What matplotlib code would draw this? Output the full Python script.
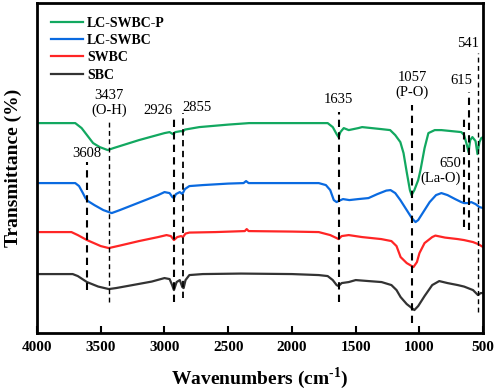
import matplotlib
matplotlib.use("Agg")
import matplotlib.pyplot as plt

plt.rcParams['font.family'] = ['Liberation Serif', 'DejaVu Serif']
plt.rcParams['mathtext.fontset'] = 'custom'
plt.rcParams['mathtext.rm'] = 'Liberation Serif'
plt.rcParams['mathtext.bf'] = 'Liberation Serif:bold'

# ---- data (wavenumber cm-1, arbitrary transmittance with vertical offsets) ----
green_x = [4000, 3700, 3650, 3560, 3508, 3445, 3400, 3300, 3200, 3100, 3000, 2960, 2935, 2915,
           2870, 2855, 2840, 2727, 2500, 2336, 2000, 1720, 1680, 1650, 1635, 1620, 1594, 1555,
           1480, 1450, 1300, 1230, 1190, 1150, 1125, 1100, 1075, 1062, 1040, 1010, 992, 960,
           930, 880, 828, 750, 672, 650, 628, 615, 602, 585, 560, 545, 530, 515, 500]
green_y = [210, 210, 205, 190, 186, 183, 185, 189, 193, 196.5, 200, 201, 199, 201,
           202, 201.5, 203.5, 206, 208.5, 210, 210, 210, 206, 199, 196, 201, 205, 203,
           205, 206, 204, 203, 198, 191, 180, 161, 143, 138, 143, 153, 163, 185,
           200, 203, 203, 202, 201, 198, 188, 181, 193, 196, 192, 179, 191, 195, 196]

blue_x = [4000, 3700, 3670, 3640, 3620, 3600, 3550, 3480, 3414, 3350, 3250, 3150, 3050, 3000,
          2960, 2938, 2926, 2910, 2880, 2860, 2840, 2805, 2700, 2500, 2380, 2360, 2340, 2000,
          1790, 1734, 1700, 1672, 1650, 1635, 1600, 1550, 1480, 1400, 1330, 1260, 1227, 1190,
          1150, 1100, 1060, 1031, 1010, 970, 920, 870, 828, 780, 720, 672, 650, 615, 594,
          560, 530, 500]
blue_y = [150, 150, 147, 140, 135, 132, 128, 123, 120, 123, 128, 133, 138, 141,
          140, 136, 135, 139, 141, 139, 144, 147, 148, 149.5, 150, 152, 150, 150,
          150, 148, 143, 133, 131, 132, 134, 133, 134, 135, 139, 142.5, 143, 140,
          133, 123, 115, 111, 113, 121, 131, 138, 140, 138, 134, 131, 130, 130, 131,
          129, 126, 125]

red_x = [4000, 3730, 3680, 3608, 3500, 3437, 3350, 3200, 3050, 2984, 2950, 2926, 2900, 2870,
         2855, 2835, 2805, 2600, 2370, 2355, 2340, 2000, 1790, 1700, 1650, 1635, 1610, 1555,
         1450, 1300, 1220, 1180, 1148, 1100, 1047, 1020, 1000, 960, 900, 875, 800, 700, 650,
         580, 540, 500]
red_y = [101, 101, 98, 93, 87, 85, 87.5, 92, 96, 98, 97, 93, 96, 97,
         96, 99.5, 100.5, 101, 102, 104, 102, 101.5, 101, 98, 95, 94, 97, 98,
         96, 94, 92, 87, 76, 70, 66, 71, 80, 90, 96, 97.5, 95.5, 94, 93,
         91, 89, 86]

black_x = [4000, 3720, 3680, 3608, 3520, 3437, 3380, 3250, 3100, 3000, 2960, 2940, 2926, 2905,
           2880, 2860, 2850, 2835, 2805, 2700, 2400, 2000, 1790, 1720, 1680, 1650, 1635, 1610,
           1555, 1500, 1400, 1297, 1220, 1180, 1148, 1100, 1060, 1040, 1010, 960, 900, 845,
           780, 700, 650, 580, 541, 520, 500]
black_y = [59, 59, 57, 51, 46.5, 44, 45, 48, 51.5, 55, 54, 48, 43, 51,
           53, 46, 45, 53, 58, 59, 59.5, 59, 58, 57, 53, 48, 47, 50,
           51, 53, 52, 51, 48, 43, 36, 29, 25, 23, 27, 37, 48, 52,
           50, 48, 46.5, 43, 38, 40, 40]

series_names = ['LC-SWBC-P', 'LC-SWBC', 'SWBC', 'SBC']

# peak markers: position, dashed-line bottom, dashed-line top
peak_pos = [3608, 3437, 2926, 2855, 1635, 1057, 650, 615, 541]
peak_low = [43, 31, 31, 35, 31, 10, 106, 103, 21]
peak_high = [171, 213, 216, 220, 221, 228, 218, 241, 280]
peak_lw = [1.5, 1.0, 1.5, 1.3, 1.5, 1.5, 1.5, 1.5, 1.0]

# peak labels: text, x, y, horizontal alignment
label_text = ['3608', '3437\n(O-H)', '2926', '2855', '1635', '1057\n(P-O)', '650\n(La-O)', '615', '541']
label_x = [3608, 3437, 3053, 2748, 1635, 1057, 675, 669, 615]
label_y = [180, 230, 223, 226, 234, 248, 162, 253, 290]
label_ha = ['center', 'center', 'center', 'center', 'center', 'center', 'right', 'center', 'center']

colors = ['#12a860', '#0a6ae0', '#ff2525', '#333333']

fig = plt.figure(figsize=(4.98, 3.90), dpi=100)
ax = fig.add_axes([0.0743, 0.146, 0.896, 0.846])

for xs, ys, c, n in zip([green_x, blue_x, red_x, black_x],
                        [green_y, blue_y, red_y, black_y], colors, series_names):
    ax.plot(xs, ys, color=c, lw=1.6, label=n)

for p, lo, hi, lw in zip(peak_pos, peak_low, peak_high, peak_lw):
    ax.plot([p, p], [lo, hi], color='black', lw=lw, ls=(0, (3.5, 2.5)))

for t, x, y, ha in zip(label_text, label_x, label_y, label_ha):
    ax.text(x, y, t, ha=ha, va='center', fontsize=10.5, linespacing=1.15)

ax.set_xlim(4000, 500)
ax.set_ylim(0, 330)
ax.set_xticks([4000, 3500, 3000, 2500, 2000, 1500, 1000, 500])
ax.set_yticks([])
ax.tick_params(axis='x', direction='in', length=5, width=1.5, labelsize=11, pad=6)
for lab in ax.get_xticklabels():
    lab.set_fontweight('bold')
for s in ax.spines.values():
    s.set_linewidth(2)

ax.set_xlabel('Wavenumbers (cm$^{\\mathbf{\\text{-}1}}$)', fontsize=14, fontweight='bold', labelpad=8)
ax.set_ylabel('Transmittance (%)', fontsize=14, fontweight='bold', labelpad=11)

leg = ax.legend(loc='upper left', frameon=False, prop={'weight': 'bold', 'size': 10},
                handlelength=2.3, handletextpad=0.3, labelspacing=0.3,
                bbox_to_anchor=(0.0, 1.0), borderaxespad=0.6)

fig.savefig('out.png', dpi=100)
